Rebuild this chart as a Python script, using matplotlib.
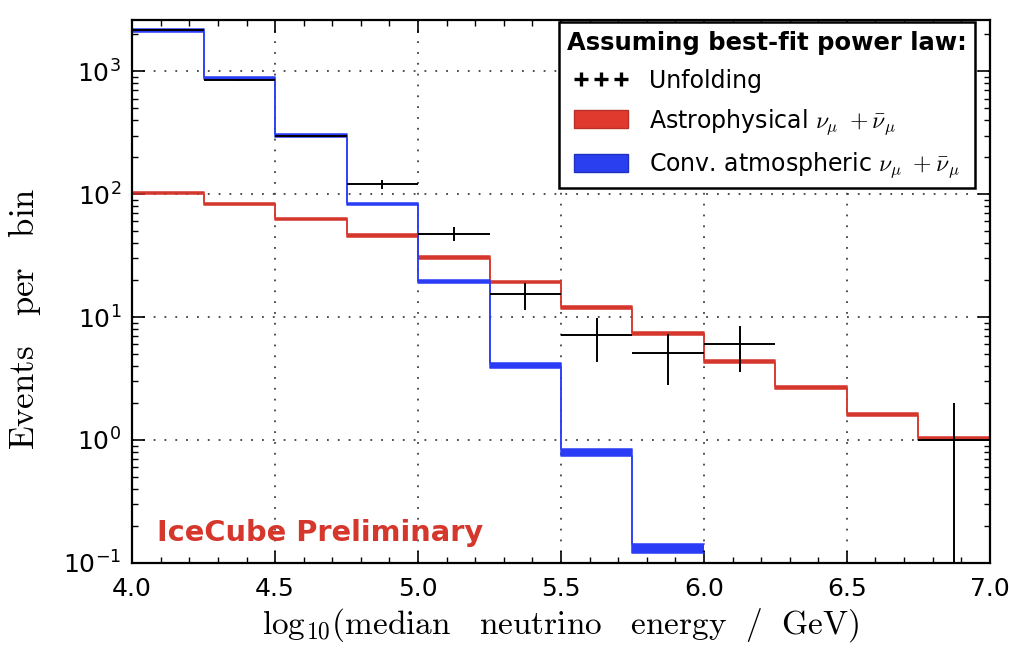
import numpy as np
import matplotlib
matplotlib.use("Agg")
import matplotlib.pyplot as plt
from matplotlib.lines import Line2D
from matplotlib.patches import Patch
from matplotlib.ticker import MultipleLocator, LogLocator, NullFormatter

plt.rcParams['mathtext.fontset'] = 'cm'

# bin edges in log10(E/GeV)
astro_edges = [4.0, 4.25, 4.5, 4.75, 5.0, 5.25, 5.5, 5.75, 6.0, 6.25, 6.5, 6.75, 7.0]
astro_lo = [100, 81.5, 62, 45, 29.8, 18.9, 11.6, 7.2, 4.25, 2.62, 1.58, 1.0]
astro_hi = [104, 84.5, 64.5, 47, 31.2, 19.8, 12.4, 7.6, 4.45, 2.74, 1.66, 1.06]

conv_edges = [4.0, 4.25, 4.5, 4.75, 5.0, 5.25, 5.5, 5.75, 6.0]
conv_lo = [2100, 860, 293, 81, 19.0, 3.82, 0.74, 0.12]
conv_hi = [2200, 900, 307, 85, 20.0, 4.2, 0.84, 0.142]

# unfolded points
unf_x = [4.125, 4.375, 4.625, 4.875, 5.125, 5.375, 5.625, 5.875, 6.125, 6.875]
unf_y = [2150, 850, 300, 120, 47.5, 15.3, 7.2, 5.1, 6.0, 1.0]
unf_lo = [2150, 840, 295, 110, 41.7, 11.4, 4.3, 2.8, 3.6, 0.01]
unf_hi = [2150, 860, 305, 131, 54, 19.1, 9.8, 7.3, 8.5, 2.0]

red = '#d5372c'
blue = '#2a3cf5'


def band(ax, edges, lo, hi, color):
    lo = list(lo) + [lo[-1]]
    hi = list(hi) + [hi[-1]]
    ax.fill_between(edges, lo, hi, step='post', color=color, lw=0)
    ax.step(edges, lo, where='post', color=color, lw=1.1)
    ax.step(edges, hi, where='post', color=color, lw=1.1)


fig = plt.figure(figsize=(10.09, 6.53), dpi=100)
ax = fig.add_axes([0.131, 0.138, 0.850, 0.831])

band(ax, astro_edges, astro_lo, astro_hi, red)
band(ax, conv_edges, conv_lo, conv_hi, blue)

yerr = [np.array(unf_y) - np.array(unf_lo), np.array(unf_hi) - np.array(unf_y)]
ax.errorbar(unf_x, unf_y, xerr=0.125, yerr=yerr, fmt='none', ecolor='black',
            elinewidth=1.4, capsize=0, zorder=5)

ax.set_yscale('log')
ax.set_xlim(4.0, 7.0)
ax.set_ylim(0.1, 2600)
ax.xaxis.set_major_locator(MultipleLocator(0.5))
ax.xaxis.set_minor_locator(MultipleLocator(0.1))
ax.yaxis.set_major_locator(LogLocator(base=10))
ax.yaxis.set_minor_locator(LogLocator(base=10, subs=np.arange(2, 10)))
ax.yaxis.set_minor_formatter(NullFormatter())
ax.tick_params(which='both', direction='in', top=True, right=True)
ax.tick_params(which='major', length=9, width=1.2, labelsize=18)
ax.tick_params(axis='x', which='major', pad=10)
ax.tick_params(axis='y', which='major', pad=8)
ax.tick_params(which='minor', length=4, width=1)
for s in ax.spines.values():
    s.set_linewidth(1.6)
ax.grid(True, which='major', ls=(0, (1, 5)), color='0.25', lw=1.3)

ax.set_xlabel(r'$\mathrm{log}_{10}(\mathrm{median\ \ \ neutrino\ \ \ energy\ \ /\ \ GeV})$',
              fontsize=24, labelpad=4)
ax.set_ylabel(r'$\mathrm{Events\ \ \ per\ \ \ bin}$', fontsize=25)
ax.yaxis.set_label_coords(-0.104, 0.45)

ax.text(0.029, 0.04, 'IceCube Preliminary', color=red, fontsize=20.8, fontweight='bold',
        transform=ax.transAxes)

handles = [
    Line2D([], [], ls='none', marker='+', color='black', ms=10, mew=2.4),
    Patch(facecolor='#e03a2f', edgecolor='#b83027'),
    Patch(facecolor='#2a40f0', edgecolor='#2030c0'),
]
labels = ['Unfolding',
          r'Astrophysical $\nu_\mu\ + \bar{\nu}_\mu$',
          r'Conv. atmospheric $\nu_\mu\ + \bar{\nu}_\mu$']
leg = ax.legend(handles, labels, loc='upper right', bbox_to_anchor=(0.983, 0.996),
                numpoints=3, fontsize=17,
                title='Assuming best-fit power law:',
                title_fontproperties={'weight': 'bold', 'size': 17.5},
                fancybox=False, framealpha=1, edgecolor='black',
                handlelength=2.3, handleheight=0.8, handletextpad=0.9,
                labelspacing=0.6, borderaxespad=0, borderpad=0.35)
leg.get_frame().set_linewidth(1.8)

fig.savefig('out.png', dpi=100)
